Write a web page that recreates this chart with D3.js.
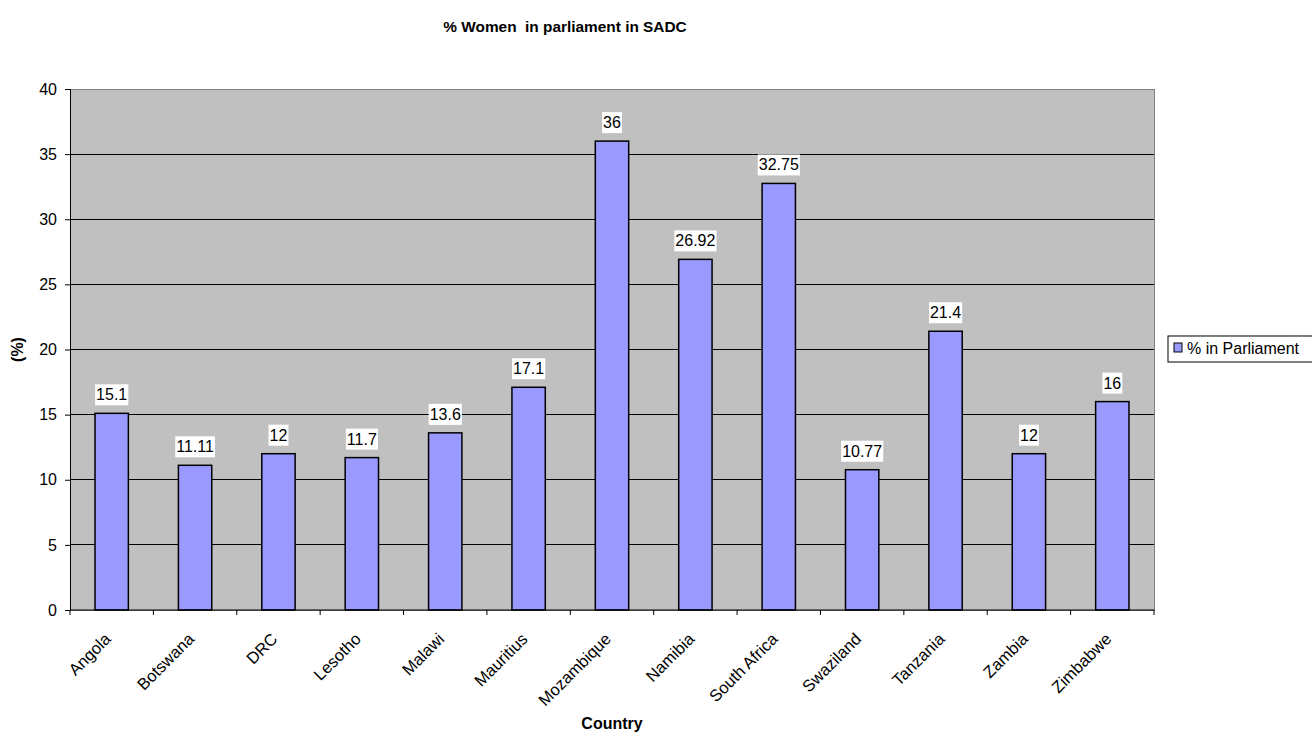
<!DOCTYPE html>
<html><head><meta charset="utf-8">
<script src="https://cdn.jsdelivr.net/npm/d3@7"></script>
<style>body{margin:0;background:#fff;} svg{display:block;font-family:Arial,"Liberation Sans",sans-serif;}</style>
</head><body>
<svg id="c" width="1312" height="733"></svg>
<script>
const categories = ["Angola","Botswana","DRC","Lesotho","Malawi","Mauritius","Mozambique","Namibia","South Africa","Swaziland","Tanzania","Zambia","Zimbabwe"];
const values = [15.1,11.11,12,11.7,13.6,17.1,36,26.92,32.75,10.77,21.4,12,16];
const labels = ["15.1","11.11","12","11.7","13.6","17.1","36","26.92","32.75","10.77","21.4","12","16"];
const yTicks = [0,5,10,15,20,25,30,35,40];
const seriesName = "% in Parliament";

const svg = d3.select("#c");
const L = 70, R = 1154, T = 89, B = 610;
const FS = 16;
const x = d3.scaleBand().domain(categories).range([L, R]).paddingInner(0.6).paddingOuter(0.3);
const xb = d3.scaleBand().domain(categories).range([L, R]);
const y = d3.scaleLinear().domain([0, 40]).range([B, T]);

svg.append("rect").attr("x", L).attr("y", T).attr("width", R - L).attr("height", B - T).attr("fill", "#c0c0c0");

svg.append("g").selectAll("line").data(yTicks.filter(d => d > 0)).join("line")
  .attr("x1", L).attr("x2", R).attr("y1", d => y(d)).attr("y2", d => y(d))
  .attr("stroke", "#000").attr("stroke-width", 1).attr("shape-rendering", "crispEdges");
svg.append("rect").attr("x", L).attr("y", T).attr("width", R - L).attr("height", B - T)
  .attr("fill", "none").attr("stroke", "#808080").attr("shape-rendering", "crispEdges");

svg.append("g").selectAll("rect").data(values).join("rect")
  .attr("x", (d, i) => x(categories[i])).attr("width", x.bandwidth())
  .attr("y", d => y(d)).attr("height", d => B - y(d))
  .attr("fill", "#9999ff").attr("stroke", "#000").attr("stroke-width", 1.5);

const ya = svg.append("g").attr("transform", `translate(${L},0)`)
  .call(d3.axisLeft(y).tickValues(yTicks).tickSize(5).tickPadding(8));
ya.select(".domain").attr("stroke", "#000");
ya.selectAll("line").attr("stroke", "#000");
ya.selectAll("text").attr("font-size", FS).attr("fill", "#000").attr("font-family", "Arial, 'Liberation Sans', sans-serif");

const xa = svg.append("g").attr("transform", `translate(0,${B})`);
xa.append("line").attr("x1", L).attr("x2", R).attr("y1", 0).attr("y2", 0).attr("stroke", "#000");
const edges = categories.map(c => xb(c)).concat([R]);
xa.selectAll("line.t").data(edges).join("line").attr("class", "t")
  .attr("x1", d => d).attr("x2", d => d).attr("y1", 0).attr("y2", 5).attr("stroke", "#000");
xa.selectAll("text").data(categories).join("text")
  .attr("transform", d => `translate(${xb(d) + xb.bandwidth() / 2 - 4},${26}) rotate(-45)`)
  .attr("text-anchor", "end").attr("font-size", 16.5).attr("fill", "#000").attr("dy", "0.35em")
  .text(d => d);

const lg = svg.append("g");
values.forEach((v, i) => {
  const cx = x(categories[i]) + x.bandwidth() / 2;
  const boxBottom = y(v) - 8;
  const t = lg.append("text").attr("x", cx).attr("y", boxBottom - 5).attr("text-anchor", "middle")
    .attr("font-size", FS).attr("fill", "#000").text(labels[i]);
  const bb = t.node().getBBox();
  lg.insert("rect", "text").attr("x", bb.x - 1).attr("y", boxBottom - 21).attr("width", bb.width + 2).attr("height", 21).attr("fill", "#fff");
});

svg.append("text").attr("x", 565).attr("y", 32).attr("text-anchor", "middle")
  .attr("font-size", 15.4).attr("font-weight", "bold").attr("xml:space", "preserve").text("% Women  in parliament in SADC");
svg.append("text").attr("x", 612).attr("y", 729).attr("text-anchor", "middle")
  .attr("font-size", FS).attr("font-weight", "bold").text("Country");
svg.append("text").attr("transform", `translate(23,${(T + B) / 2}) rotate(-90)`).attr("text-anchor", "middle")
  .attr("font-size", FS).attr("font-weight", "bold").text("(%)");

const lx = 1168, ly = 336;
svg.append("rect").attr("x", lx).attr("y", ly).attr("width", 160).attr("height", 26).attr("fill", "#fff").attr("stroke", "#000");
svg.append("rect").attr("x", lx + 6).attr("y", ly + 7).attr("width", 8).attr("height", 9).attr("fill", "#9999ff").attr("stroke", "#000");
svg.append("text").attr("x", lx + 19).attr("y", ly + 18).attr("font-size", FS).text(seriesName);
</script>
</body></html>
